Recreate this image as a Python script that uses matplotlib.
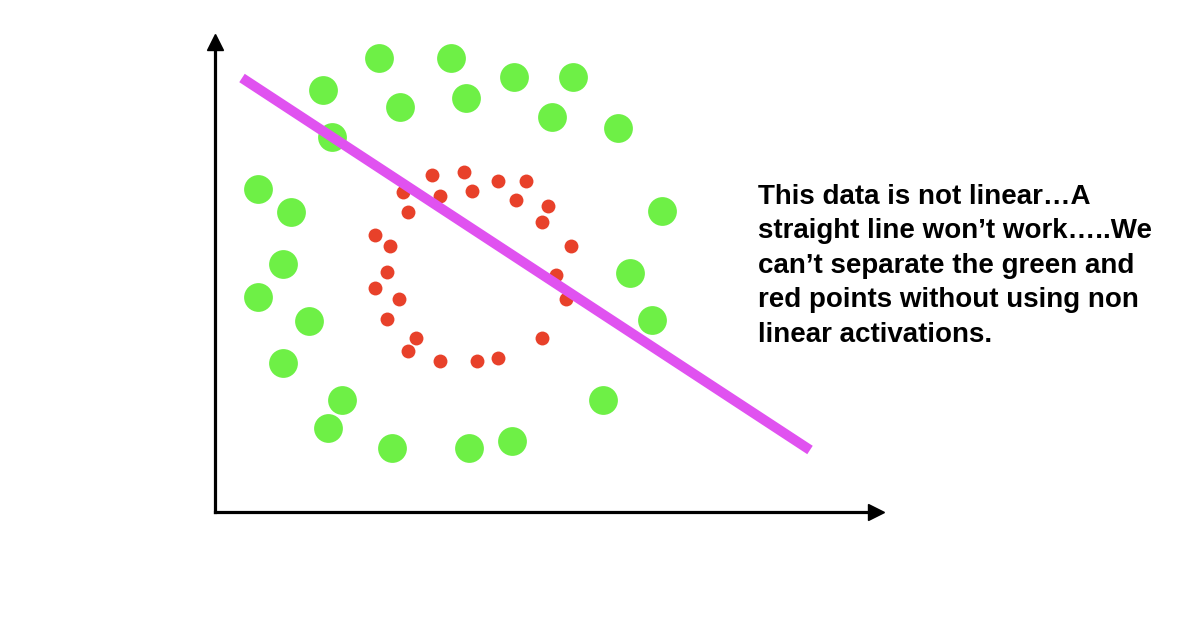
import matplotlib
matplotlib.use("Agg")
import numpy as np
from matplotlib import pyplot as plt

# outer ring (green)
green_x = [16.4, 23.6, 10.8, 18.5, 25.1, 11.7, 4.3, 7.6, 6.8, 29.9, 35.8, 33.7, 40.3,
           44.7, 4.3, 9.4, 6.8, 12.7, 11.3, 17.7, 25.4, 41.5, 43.7, 38.8, 29.7]
green_y = [45.4, 45.4, 42.2, 40.5, 41.4, 37.5, 32.3, 30.0, 24.8, 43.5, 43.5, 39.5, 38.4,
           30.1, 21.5, 19.1, 14.9, 11.2, 8.4, 6.4, 6.4, 23.9, 19.2, 11.2, 7.1]

# inner ring (red)
red_x = [21.7, 24.9, 18.8, 22.5, 25.7, 19.3, 16.0, 17.5, 28.3, 31.1, 30.1, 33.3, 32.7,
         35.6, 17.2, 16.0, 18.4, 17.2, 20.1, 19.3, 22.5, 26.2, 34.1, 35.1, 32.7, 28.3]
red_y = [33.7, 34.0, 32.0, 31.6, 32.1, 30.0, 27.7, 26.6, 33.1, 33.1, 31.2, 30.6, 29.0,
         26.6, 24.0, 22.4, 21.3, 19.3, 17.4, 16.1, 15.1, 15.1, 23.7, 21.3, 17.4, 15.4]

# the straight "decision" line
line_x = [2.7, 59.5]
line_y = [43.4, 6.2]

note = ("This data is not linear\u2026A\n"
        "straight line won\u2019t work\u2026..We\n"
        "can\u2019t separate the green and\n"
        "red points without using non\n"
        "linear activations.")

fig = plt.figure(figsize=(12, 6.43), dpi=100)
ax = fig.add_axes([215 / 1200, 131 / 643, 661 / 1200, 470 / 643])
ax.set_xlim(0, 66.1)
ax.set_ylim(0, 47.0)

ax.scatter(green_x, green_y, s=430, color='#6EF046', linewidths=0, zorder=2)
ax.scatter(red_x, red_y, s=100, color='#E8412A', linewidths=0, zorder=2)
ax.plot(line_x, line_y, color='#E052F0', linewidth=7.2, solid_capstyle='butt', zorder=3)

# axes with arrow heads
for side in ['top', 'right']:
    ax.spines[side].set_visible(False)
for side in ['left', 'bottom']:
    ax.spines[side].set_linewidth(2.3)
    ax.spines[side].set_color('black')
ax.plot(0, 1, '^', ms=12, color='black', transform=ax.transAxes, clip_on=False)
ax.plot(1, 0, '>', ms=12, color='black', transform=ax.transAxes, clip_on=False)
ax.set_xticks([])
ax.set_yticks([])

# va='baseline' lines up the last line's baseline here
fig.text(758 / 1200, (643 - 342) / 643, note, ha='left', va='baseline',
         fontsize=20, fontweight='bold', family=['Liberation Sans', 'DejaVu Sans'],
         linespacing=1.43)

fig.savefig("out.png", dpi=100)
